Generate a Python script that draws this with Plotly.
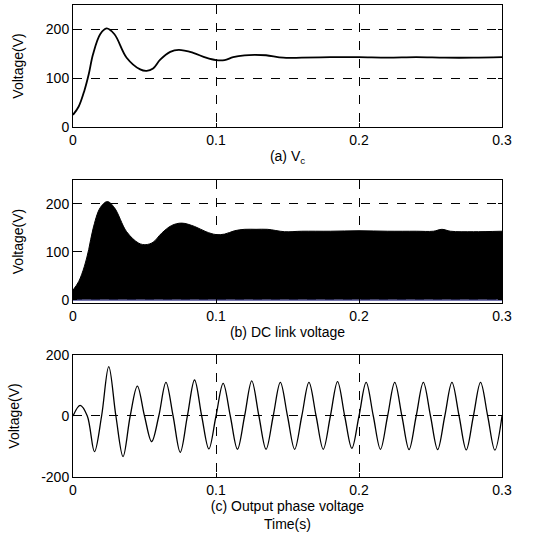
import plotly.graph_objects as go
from plotly.subplots import make_subplots

# (a) capacitor voltage Vc
t_vc = [0, 0.004, 0.008, 0.011, 0.014, 0.019, 0.0235, 0.029, 0.0375, 0.047, 0.0515, 0.056, 0.061,
        0.068, 0.074, 0.084, 0.093, 0.1, 0.106, 0.112, 0.12, 0.127, 0.135, 0.147, 0.16,
        0.18, 0.2, 0.22, 0.24, 0.26, 0.28, 0.3]
v_vc = [25, 42, 75, 108, 149, 190, 202, 190, 142, 118, 115, 120, 138,
        154, 158, 152, 142, 137, 137, 143, 147, 148, 147, 142, 142,
        143, 143, 142, 143, 142, 142, 143]

# (b) DC link voltage envelope (PWM pulses between 0 and envelope)
t_dc = [0, 0.004, 0.008, 0.011, 0.014, 0.019, 0.024, 0.029, 0.0375, 0.046, 0.051, 0.056, 0.062,
        0.069, 0.076, 0.085, 0.093, 0.1, 0.106, 0.113, 0.12, 0.128, 0.136, 0.148, 0.16,
        0.18, 0.2, 0.22, 0.24, 0.252, 0.258, 0.264, 0.28, 0.3]
v_dc = [20, 38, 70, 105, 148, 192, 205, 192, 142, 118, 115, 120, 139,
        155, 160, 153, 142, 136, 137, 144, 147, 147, 147, 142, 143,
        143, 144, 143, 143, 143, 147, 143, 142, 143]

# (c) output phase voltage, read at quarter-period points
t_out = [round(0.005 * i, 3) for i in range(61)]
v_out = [0, 35, 0, -117, 0, 162, 0, -133, 0, 98, 0, -84, 0, 110, 0, -119,
         0, 118, 0, -108, 0, 107, 0, -109, 0, 115, 0, -109, 0, 110, 0, -109,
         0, 110, 0, -109, 0, 113, 0, -106, 0, 110, 0, -109, 0, 110, 0, -110,
         0, 110, 0, -110, 0, 110, 0, -111, 0, 110, 0, -112, 0]

x_ticks = [0, 0.1, 0.2, 0.3]
x_ticktext = ["0", "0.1", "0.2", "0.3"]
y_ticks = [[0, 100, 200], [0, 100, 200], [-200, 0, 200]]
y_ticktext = [["0", "100", "200"], ["0", "100", "200"], ["-200", "0", "200"]]

fig = make_subplots(rows=3, cols=1)

fig.add_trace(go.Scatter(x=t_vc, y=v_vc, mode="lines", line=dict(color="black", width=1.8, shape="spline")), row=1, col=1)
fig.add_trace(go.Scatter(x=t_dc, y=v_dc, mode="lines", fill="tozeroy", fillcolor="black",
                         line=dict(color="black", width=1, shape="spline")), row=2, col=1)
fig.add_trace(go.Scatter(x=[0, 0.3], y=[-1, -1], mode="lines", line=dict(color="#4a4a96", width=1.2)), row=2, col=1)
fig.add_trace(go.Scatter(x=t_out, y=v_out, mode="lines", line=dict(color="black", width=1.3, shape="spline")), row=3, col=1)

font = dict(family="Liberation Sans, Arial, sans-serif", size=14, color="black")
axis_common = dict(showline=True, linecolor="black", linewidth=1, mirror="ticks", ticks="inside",
                   ticklen=4, tickcolor="black", showgrid=True, gridcolor="black", griddash="dash",
                   gridwidth=1, zeroline=False, tickfont=font, automargin=False)

domains = [[0.7415, 1.0], [0.3686, 0.6292], [0.0, 0.2585]]
titles = ["(a) V<sub>c</sub>", "(b) DC link voltage", "(c) Output phase voltage<br>Time(s)"]
yranges = [[0, 250], [-7, 250], [-200, 200]]

for i in range(3):
    xa = "xaxis" if i == 0 else f"xaxis{i+1}"
    ya = "yaxis" if i == 0 else f"yaxis{i+1}"
    fig.layout[xa].update(range=[0, 0.3], tickvals=x_ticks, ticktext=x_ticktext,
                          title=dict(text=titles[i], font=font, standoff=4), **axis_common)
    fig.layout[ya].update(domain=domains[i], range=yranges[i], tickvals=y_ticks[i], ticktext=y_ticktext[i],
                          title=dict(text="Voltage(V)", font=font, standoff=18), **axis_common)

fig.update_layout(width=533, height=544, showlegend=False,
                  margin=dict(l=73, r=31, t=5, b=67),
                  plot_bgcolor="white", paper_bgcolor="white", font=font)

fig.write_html("out.html", config={"displayModeBar": False},
               post_script="document.body.style.margin='0px';document.body.style.overflow='hidden';")
